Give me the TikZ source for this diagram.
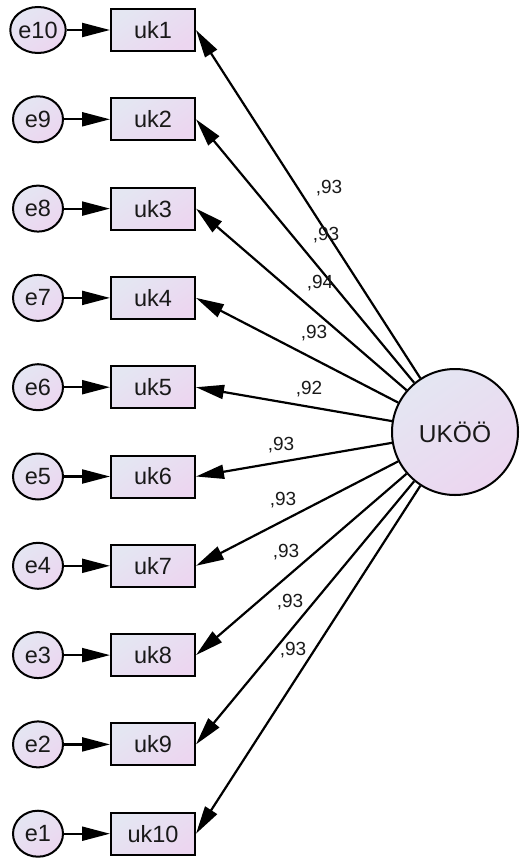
\documentclass[tikz,border=0pt]{standalone}
\usepackage{fontspec}
\setmainfont{Liberation Sans}
\usetikzlibrary{shapes.geometric,arrows.meta}
\definecolor{fillA}{RGB}{228,230,242}
\definecolor{fillB}{RGB}{236,214,240}
\definecolor{txt}{RGB}{25,25,25}
\tikzset{
  shadefill/.style={top color=fillA, bottom color=fillB, shading angle=35},
  obsbox/.style={draw, line width=2pt, shadefill, minimum width=84pt, minimum height=42pt, inner sep=0pt, text=txt, font=\fontsize{23.5}{26}\selectfont},
  errnode/.style={draw, ellipse, line width=2pt, shadefill, minimum width=50pt, minimum height=46pt, inner sep=0pt, text=txt, font=\fontsize{23.5}{26}\selectfont},
  latnode/.style={draw, circle, line width=2pt, shadefill, minimum size=126pt, inner sep=0pt, text=txt, font=\fontsize{24.5}{27}\selectfont},
  conn/.style={line width=2.2pt, -{Triangle[length=28pt,width=14pt]}},
  wlabel/.style={font=\fontsize{19}{22}\selectfont, text=txt, inner sep=0pt}
}
\begin{document}
\begin{tikzpicture}[x=1pt,y=-1pt]
\useasboundingbox (0,0) rectangle (520,862);
\node[latnode] (L) at (455,432) {UKÖÖ};
\foreach \i/\e/\lx/\ly/\v in {1/10/329/188/93, 2/9/326/235/93, 3/8/320/283/94, 4/7/314/333/93, 5/6/309/389/92, 6/5/281/445/93, 7/4/283/500/93, 8/3/286/552/93, 9/2/290/602/93, 10/1/293/650/93}{
  \pgfmathsetmacro{\yy}{30+(\i-1)*89.3}
  \node[obsbox] (uk\i) at (153,\yy) {uk\i};
  \node[errnode] (e\e) at (38,\yy) {e\e};
  \draw[conn] (e\e) -- (uk\i);
  \draw[conn] (L) -- (uk\i.east);
  \node[wlabel] (lab\i) at (\lx,\ly) {,\v};
}
\end{tikzpicture}
\end{document}
